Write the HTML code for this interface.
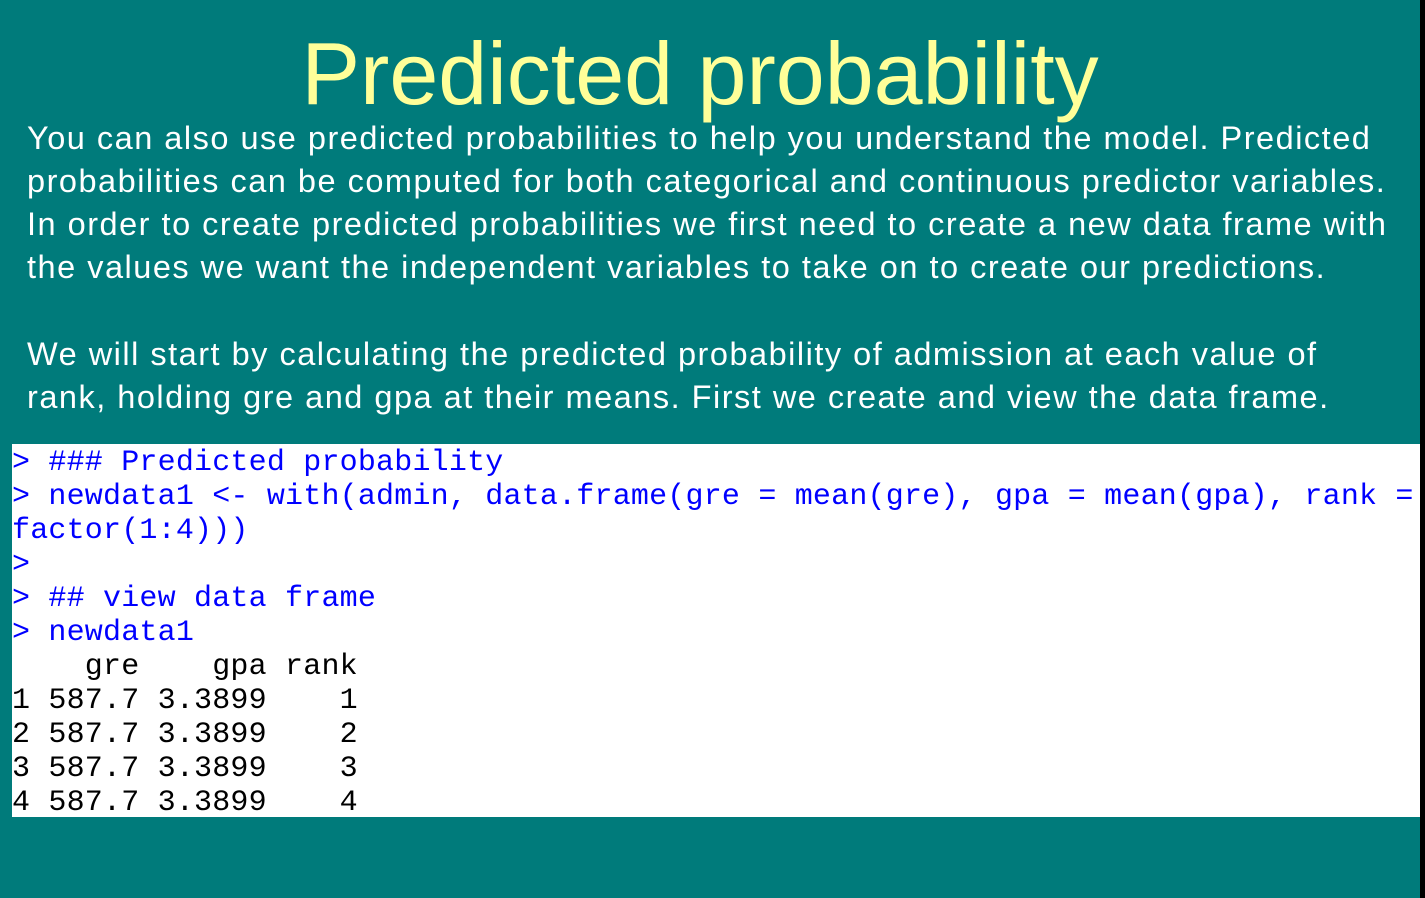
<!DOCTYPE html>
<html><head><meta charset="utf-8"><style>
html,body{margin:0;padding:0;}
body{width:1425px;height:898px;background:#007b7b;position:relative;overflow:hidden;font-family:"Liberation Sans",sans-serif;}
#title{position:absolute;left:0;width:1400px;top:24px;text-align:center;color:#ffff99;font-size:88px;line-height:100px;}
.p{position:absolute;left:27px;color:#fff;font-size:32.5px;line-height:43px;white-space:nowrap;letter-spacing:1.5px;}
#code{position:absolute;left:12px;top:444px;width:1408px;height:373px;background:#fff;}
#code pre{margin:0;padding-top:2px;font-family:"Liberation Mono",monospace;font-size:30px;line-height:34px;letter-spacing:0.2px;color:#0000ff;}
#code .o{color:#000;}
#edge{position:absolute;left:1420px;top:0;width:5px;height:898px;background:#000;}
</style></head><body>
<div id="title">Predicted probability</div>
<div class="p" style="top:117px">You can also use predicted probabilities to help you understand the model. Predicted<br>probabilities can be computed for both categorical and continuous predictor variables.<br>In order to create predicted probabilities we first need to create a new data frame with<br>the values we want the independent variables to take on to create our predictions.</div>
<div class="p" style="top:333px">We will start by calculating the predicted probability of admission at each value of<br>rank, holding gre and gpa at their means. First we create and view the data frame.</div>
<div id="code"><pre>&gt; ### Predicted probability
&gt; newdata1 &lt;- with(admin, data.frame(gre = mean(gre), gpa = mean(gpa), rank =
factor(1:4)))
&gt;
&gt; ## view data frame
&gt; newdata1
<span class="o">    gre    gpa rank
1 587.7 3.3899    1
2 587.7 3.3899    2
3 587.7 3.3899    3
4 587.7 3.3899    4</span></pre></div>
<div id="edge"></div>
</body></html>
